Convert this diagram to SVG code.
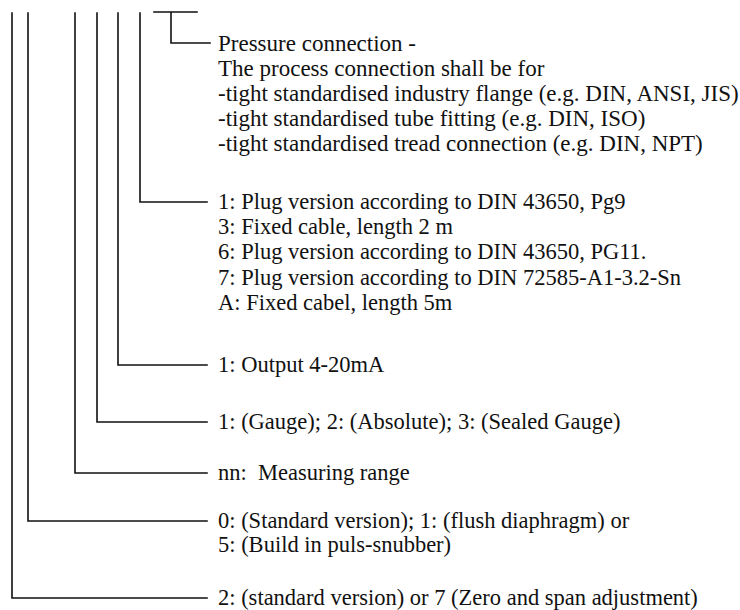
<svg xmlns="http://www.w3.org/2000/svg" width="740" height="610" viewBox="0 0 740 610">
<style>
  .c { fill: none; stroke: #111; stroke-width: 1.6; stroke-linecap: square; }
  .t { font-family: "Liberation Serif", "Times New Roman", serif; font-size: 22.5px; fill: #111; white-space: pre; }
  .w { font-size: 23px; }
</style>
<rect width="740" height="610" fill="#fff"/>
<g id="connectors">
  <path class="c" d="M154 12 H197 M171 12 V43 H210"/>
  <path class="c" d="M140 13 V202 H207"/>
  <path class="c" d="M118 13 V365 H207"/>
  <path class="c" d="M97 13 V422 H207"/>
  <path class="c" d="M75 13 V473 H207"/>
  <path class="c" d="M28 13 V521 H207"/>
  <path class="c" d="M12 13 V598 H207"/>
</g>
<g id="pressure-connection">
  <text class="t w" x="218" y="51">Pressure connection -</text>
  <text class="t w" x="218" y="76">The process connection shall be for</text>
  <text class="t w" x="218" y="101">-tight standardised industry flange (e.g. DIN, ANSI, JIS)</text>
  <text class="t w" x="218" y="126">-tight standardised tube fitting (e.g. DIN, ISO)</text>
  <text class="t w" x="218" y="151">-tight standardised tread connection (e.g. DIN, NPT)</text>
</g>
<g id="electrical-connection">
  <text class="t" x="218" y="209">1: Plug version according to DIN 43650, Pg9</text>
  <text class="t" x="218" y="234">3: Fixed cable, length 2 m</text>
  <text class="t" x="218" y="259">6: Plug version according to DIN 43650, PG11.</text>
  <text class="t" x="218" y="285">7: Plug version according to DIN 72585-A1-3.2-Sn</text>
  <text class="t" x="218" y="310">A: Fixed cabel, length 5m</text>
</g>
<g id="output">
  <text class="t" x="218" y="372">1: Output 4-20mA</text>
</g>
<g id="pressure-type">
  <text class="t" x="218" y="429">1: (Gauge); 2: (Absolute); 3: (Sealed Gauge)</text>
</g>
<g id="measuring-range">
  <text class="t" x="218" y="480">nn:  Measuring range</text>
</g>
<g id="diaphragm">
  <text class="t" x="218" y="528">0: (Standard version); 1: (flush diaphragm) or</text>
  <text class="t" x="218" y="552">5: (Build in puls-snubber)</text>
</g>
<g id="adjustment">
  <text class="t" x="218" y="605">2: (standard version) or 7 (Zero and span adjustment)</text>
</g>
</svg>
